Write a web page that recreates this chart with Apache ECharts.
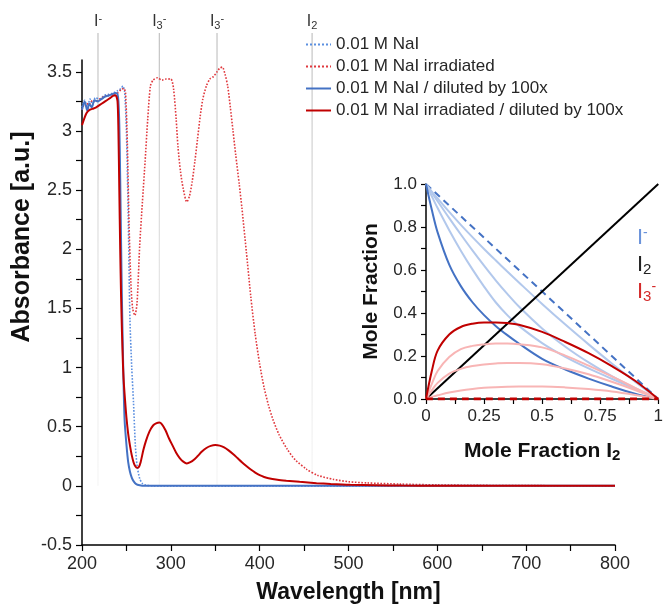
<!DOCTYPE html>
<html><head><meta charset="utf-8">
<script src="https://cdn.jsdelivr.net/npm/echarts@6/dist/echarts.min.js"></script>
<style>html,body{margin:0;padding:0;background:#fff}#c{width:666px;height:609px}</style>
</head><body><div id="c"></div><script>
// ---------- main chart data ----------
const wlBlueDot = [200,203,206,209,212,215,220,225,230,235,240,244,246,248,250,252,254,256,258,260,262,265,268,272,280,300,400,500,600,700,800];
const absBlueDot = [3.20,3.26,3.19,3.27,3.22,3.28,3.27,3.30,3.31,3.32,3.34,3.36,3.38,3.33,3.00,2.30,1.40,1.00,0.70,0.35,0.17,0.06,0.02,0.005,0,0,0,0,0,0,0];

const wlRedDot = [200,204,208,212,216,220,225,230,235,240,244,247,249,251,253,255,257,259.5,262,265,268,271,274,277,280,285,290,295,300,303,306,308,311,314,318,321,324,327,330,333,336,340,344,348,352,355,358,361,364,367,370,373,377,380,385,390,395,400,405,410,415,422,431,440,453,465,483,500,521,558,600,650,700,800];
const absRedDot = [3.18,3.24,3.22,3.26,3.25,3.27,3.29,3.30,3.31,3.32,3.35,3.36,3.32,2.90,2.20,1.72,1.50,1.44,1.55,2.04,2.40,2.74,3.10,3.38,3.43,3.45,3.43,3.44,3.44,3.36,3.10,2.87,2.65,2.51,2.40,2.45,2.57,2.74,2.93,3.12,3.27,3.38,3.44,3.46,3.50,3.53,3.54,3.48,3.38,3.20,3.00,2.80,2.55,2.35,1.98,1.60,1.28,1.03,0.83,0.68,0.56,0.43,0.31,0.22,0.14,0.09,0.055,0.035,0.025,0.015,0.008,0.004,0.002,0];

const wlBlueSol = [200,203,206,208,211,214,218,222,226,230,234,238,240,241,242,243,244,245,246,247,248,250,252,254,256,258,261,265,270,280,400,600,800];
const absBlueSol = [3.18,3.25,3.17,3.23,3.20,3.26,3.25,3.27,3.29,3.30,3.31,3.32,3.31,3.25,3.05,2.60,2.05,1.55,1.15,0.80,0.55,0.35,0.20,0.12,0.07,0.04,0.015,0.005,0,0,0,0,0];

const wlRedSol = [200,205,209,213,216,220,224,228,232,236,238,240,241,242,243,244,245,246,247,248.5,250,252,254,256,258,260,262,264,266,269,272,276,280,284,287,290,294,298,302,306,310,314,318,322,326,330,335,340,345,350,355,360,365,370,375,380,385,390,395,400,405,410,420,430,445,464,480,502,530,560,600,700,800];
const absRedSol = [3.05,3.15,3.18,3.19,3.20,3.22,3.24,3.26,3.28,3.30,3.30,3.25,3.00,2.50,2.00,1.60,1.30,1.05,0.88,0.72,0.58,0.44,0.34,0.26,0.20,0.165,0.153,0.16,0.20,0.30,0.38,0.46,0.51,0.53,0.535,0.52,0.47,0.40,0.34,0.28,0.235,0.205,0.19,0.20,0.22,0.25,0.29,0.32,0.338,0.345,0.34,0.325,0.30,0.27,0.235,0.20,0.168,0.138,0.112,0.09,0.075,0.064,0.052,0.044,0.034,0.023,0.016,0.009,0.005,0.002,0.001,0,0];

const seriesNames = ['0.01 M NaI','0.01 M NaI irradiated','0.01 M NaI / diluted by 100x','0.01 M NaI irradiated / diluted by 100x'];

const markerWl = [218, 287, 352, 459];
const markerLabels = ['{b|I}{p|-}', '{b|I}{s|3}{p|-}', '{b|I}{s|3}{p|-}', '{b|I}{s|2}'];

const mainXTicks = [200,250,300,350,400,450,500,550,600,650,700,750,800];
const mainXLabels = [200,300,400,500,600,700,800];
const mainYTicks = [-0.5,-0.25,0,0.25,0.5,0.75,1,1.25,1.5,1.75,2,2.25,2.5,2.75,3,3.25,3.5];
const mainYLabels = [-0.5,0,0.5,1,1.5,2,2.5,3,3.5];

// ---------- inset data ----------
const xFrac = [0,0.025,0.05,0.1,0.15,0.2,0.25,0.3,0.35,0.4,0.5,0.6,0.7,0.8,0.9,1.0];
const iodideStrong = [1.0,0.88,0.775,0.625,0.525,0.45,0.39,0.34,0.297,0.258,0.187,0.137,0.095,0.058,0.025,0];
const iodideMid1 = [1,0.943,0.888,0.785,0.69,0.603,0.523,0.45,0.39,0.34,0.26,0.196,0.142,0.094,0.047,0];
const iodideMid2 = [1,0.96,0.92,0.841,0.765,0.691,0.62,0.552,0.489,0.43,0.328,0.243,0.17,0.106,0.05,0];
const iodideWeak = [1,0.965,0.933,0.87,0.81,0.753,0.698,0.645,0.593,0.542,0.442,0.346,0.254,0.165,0.081,0];
const triStrong = [0,0.13,0.225,0.30,0.335,0.350,0.356,0.356,0.353,0.345,0.312,0.265,0.213,0.153,0.085,0];
const triMid1 = [0,0.07,0.13,0.195,0.232,0.247,0.254,0.258,0.258,0.255,0.24,0.202,0.155,0.105,0.052,0];
const triMid2 = [0,0.04,0.075,0.118,0.14,0.153,0.16,0.165,0.168,0.168,0.162,0.142,0.115,0.08,0.042,0];
const triWeak = [0,0.01,0.017,0.03,0.04,0.047,0.052,0.055,0.057,0.058,0.058,0.054,0.046,0.035,0.019,0];
const xEnds = [0, 1];
const iodideNone = [1, 0];
const triNone = [0, 0];
const iodineFree = [0, 1];

const insetXTicks = [0,0.125,0.25,0.375,0.5,0.625,0.75,0.875,1];
const insetXLabels = [0,0.25,0.5,0.75,1];
const insetYTicks = [0,0.1,0.2,0.3,0.4,0.5,0.6,0.7,0.8,0.9,1];
const insetYLabels = [0,0.2,0.4,0.6,0.8,1];

// ---------- styles ----------
const FONT = 'Liberation Sans';
const TXT = '#262626';
const cBlue = '#4472C4', cBlueDot = '#5B8FE0', cRed = '#C00000', cRedDot = '#E0393E';
const cLightBlue = '#B2C8EC', cLightRed = '#F8B5B5';

const zip = (xs, ys) => xs.map((x, i) => [x, ys[i]]);

function mainLine(name, xs, ys, color, type, width, z) {
  return {name, type:'line', xAxisIndex:0, yAxisIndex:0, data: zip(xs, ys), symbol:'none',
    smooth:0.25, z, lineStyle:{color, type, width}, itemStyle:{color}, animation:false};
}
function insetLine(xs, ys, color, type, width, z) {
  return {type:'line', xAxisIndex:1, yAxisIndex:1, data: zip(xs, ys), symbol:'none',
    smooth:0.35, z, lineStyle:{color, type, width}, itemStyle:{color}, animation:false, silent:true};
}

const richSmall = {
  b:{fontSize:16, fontFamily:FONT, fill:'#333', lineHeight:18},
  s:{fontSize:11, fontFamily:FONT, fill:'#333', lineHeight:11, verticalAlign:'bottom'},
  p:{fontSize:11, fontFamily:FONT, fill:'#333', lineHeight:11, verticalAlign:'top'}
};

const chart = echarts.init(document.getElementById('c'), null, {renderer:'canvas'});
chart.setOption({
  animation:false,
  backgroundColor:'#fff',
  textStyle:{fontFamily:FONT},
  legend:{
    data: seriesNames, orient:'vertical', left:305, top:35, itemWidth:25, itemHeight:12, itemGap:3,
    padding:0,
    itemStyle:{color:'rgba(0,0,0,0)', borderWidth:0, opacity:0},
    textStyle:{fontSize:17, lineHeight:19, color:TXT, fontFamily:FONT}, selectedMode:false
  },
  grid:[
    {left:82, right:51, top:60, bottom:60},
    {left:426, right:0, top:184, bottom:210, backgroundColor:'#fff', show:true, borderWidth:0}
  ],
  xAxis:[
    {type:'value', gridIndex:0, min:200, max:800, splitLine:{show:false},
     axisLine:{onZero:false, lineStyle:{color:'#000', width:1.5}},
     axisTick:{customValues: mainXTicks, length:6, lineStyle:{color:'#000', width:1.2}},
     axisLabel:{customValues: mainXLabels, fontSize:18, color:TXT, margin:10},
     name:'Wavelength [nm]', nameLocation:'middle', nameGap:36,
     nameTextStyle:{fontSize:23, fontWeight:'bold', color:'#111'}},
    {type:'value', gridIndex:1, min:0, max:1, splitLine:{show:false},
     axisLine:{onZero:false, lineStyle:{color:'#000', width:1.5}},
     axisTick:{customValues: insetXTicks, length:5, lineStyle:{color:'#000', width:1.2}},
     axisLabel:{customValues: insetXLabels, fontSize:17, color:TXT, margin:9},
     name:'Mole Fraction {s|I}{sub|2}', nameLocation:'middle', nameGap:40,
     nameTextStyle:{fontSize:21, fontWeight:'bold', color:'#111',
       rich:{s:{fontSize:21, fontWeight:'bold', color:'#111', lineHeight:24},
             sub:{fontSize:15, fontWeight:'bold', color:'#111', lineHeight:14, verticalAlign:'bottom'}}}}
  ],
  yAxis:[
    {type:'value', gridIndex:0, min:-0.5, max:3.6, splitLine:{show:false},
     axisLine:{onZero:false, lineStyle:{color:'#000', width:1.5}},
     axisTick:{customValues: mainYTicks, length:6, lineStyle:{color:'#000', width:1.2}},
     axisLabel:{customValues: mainYLabels, fontSize:18, color:TXT, margin:10}},
    {type:'value', gridIndex:1, min:0, max:1, splitLine:{show:false},
     axisLine:{onZero:false, lineStyle:{color:'#000', width:1.5}},
     axisTick:{customValues: insetYTicks, length:5, lineStyle:{color:'#000', width:1.2}},
     axisLabel:{customValues: insetYLabels, fontSize:17, color:TXT, margin:9,
       formatter: v => v.toFixed(1)},
     name:'Mole Fraction', nameLocation:'middle', nameGap:44,
     nameTextStyle:{fontSize:21, fontWeight:'bold', color:'#111'}}
  ],
  graphic:[
    {type:'text', x:22, y:237, rotation:Math.PI/2, silent:true,
     style:{text:'Absorbance [a.u.]', font:'bold 25px "Liberation Sans"', fill:'#111', align:'center', verticalAlign:'middle'}},
    {type:'text', x:637, y:238, silent:true,
     style:{text:'{b|I}{p|-}', align:'left', verticalAlign:'middle',
       rich:{b:{fontSize:22, fontFamily:FONT, fill:'#6A93DA', lineHeight:24}, p:{fontSize:14, fontFamily:FONT, fill:'#6A93DA', lineHeight:12, verticalAlign:'top'}}}},
    {type:'text', x:637, y:265, silent:true,
     style:{text:'{b|I}{s|2}', align:'left', verticalAlign:'middle',
       rich:{b:{fontSize:22, fontFamily:FONT, fill:'#222', lineHeight:24}, s:{fontSize:15, fontFamily:FONT, fill:'#222', lineHeight:14, verticalAlign:'bottom'}}}},
    {type:'text', x:637, y:292, silent:true,
     style:{text:'{b|I}{s|3}{p|-}', align:'left', verticalAlign:'middle',
       rich:{b:{fontSize:22, fontFamily:FONT, fill:'#D42A2A', lineHeight:24}, s:{fontSize:15, fontFamily:FONT, fill:'#D42A2A', lineHeight:14, verticalAlign:'bottom'}, p:{fontSize:14, fontFamily:FONT, fill:'#D42A2A', lineHeight:12, verticalAlign:'top'}}}}
  ],
  series:[
    {type:'custom', xAxisIndex:0, yAxisIndex:0, clip:false, silent:true, z:1, animation:false,
     data: markerWl.map((w, i) => [w, i]),
     renderItem: (params, api) => {
       const w = api.value(0), i = api.value(1);
       const p = api.coord([w, 0]);
       return {type:'group', children:[
         {type:'line', shape:{x1:p[0], y1:33, x2:p[0], y2:p[1]},
          style:{stroke: new echarts.graphic.LinearGradient(p[0], 33, p[0], p[1], [
            {offset:0, color:'#b5b5b5'}, {offset:0.5, color:'#dcdcdc'}, {offset:1, color:'#f4f4f4'}], true), lineWidth:1}},
         {type:'text', x:p[0], y:31, style:{text: markerLabels[i], align:'center', verticalAlign:'bottom', rich: richSmall}}
       ]};
     }},
    mainLine(seriesNames[0], wlBlueDot, absBlueDot, cBlueDot, 'dotted', 1.6, 3),
    mainLine(seriesNames[1], wlRedDot, absRedDot, cRedDot, 'dotted', 1.6, 3),
    mainLine(seriesNames[2], wlBlueSol, absBlueSol, cBlue, 'solid', 2, 4),
    mainLine(seriesNames[3], wlRedSol, absRedSol, cRed, 'solid', 2, 5),
    insetLine(xEnds, iodideNone, cBlue, [7,5], 2, 6),
    insetLine(xFrac, iodideWeak, cLightBlue, 'solid', 2, 6),
    insetLine(xFrac, iodideMid2, cLightBlue, 'solid', 2, 6),
    insetLine(xFrac, iodideMid1, cLightBlue, 'solid', 2, 6),
    insetLine(xFrac, iodideStrong, cBlue, 'solid', 2, 7),
    insetLine(xEnds, iodineFree, '#000', 'solid', 2, 7),
    insetLine(xFrac, triWeak, cLightRed, 'solid', 2, 7),
    insetLine(xFrac, triMid2, cLightRed, 'solid', 2, 7),
    insetLine(xFrac, triMid1, cLightRed, 'solid', 2, 7),
    insetLine(xFrac, triStrong, cRed, 'solid', 2, 8),
    insetLine(xEnds, triNone, cRed, [7,5], 3, 9)
  ]
});
</script></body></html>
